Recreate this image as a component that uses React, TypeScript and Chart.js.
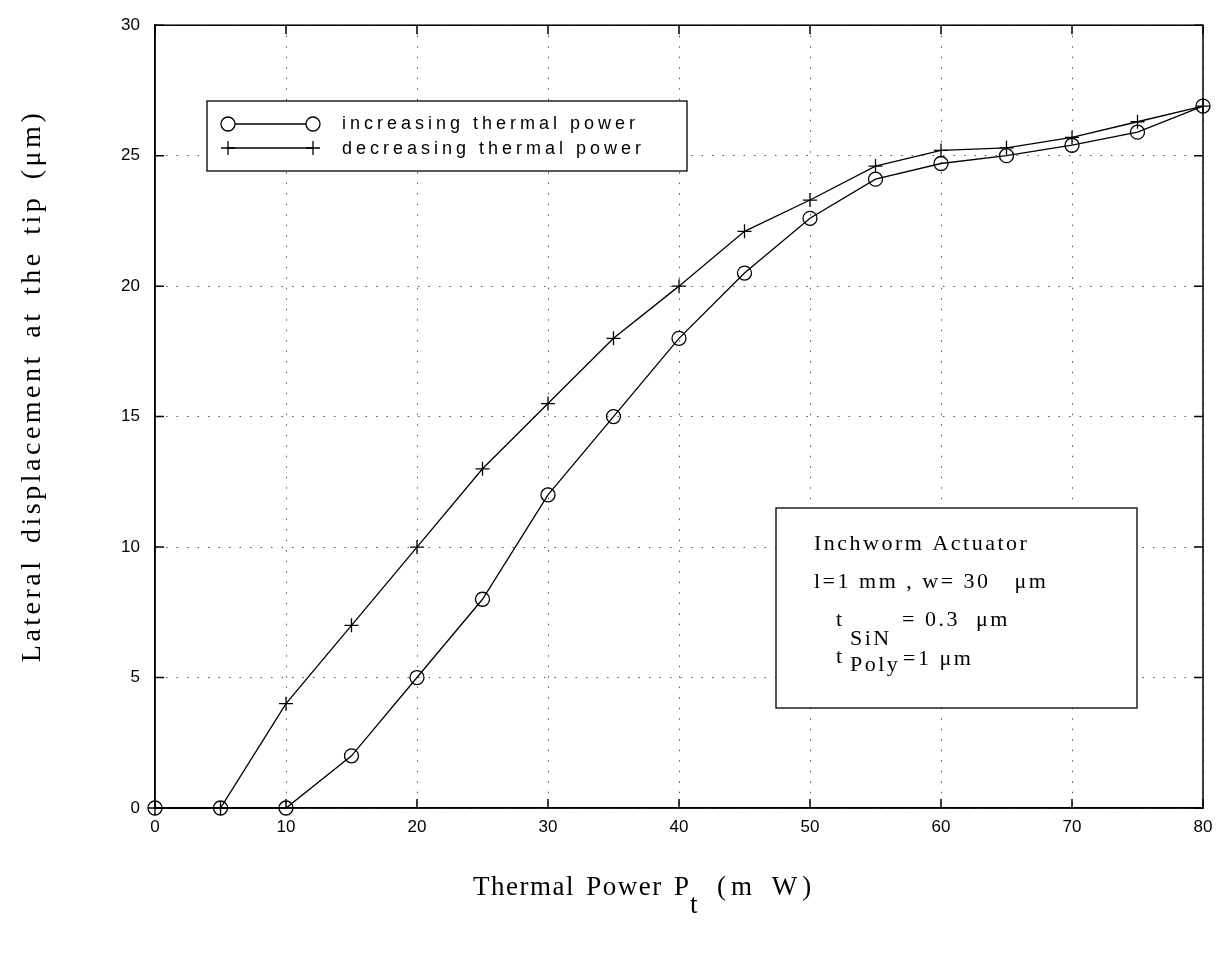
import React, { useEffect, useRef } from 'react';
import { Chart, registerables } from 'chart.js';

Chart.register(...registerables);

// ---- data ----
const powerMW = [0, 5, 10, 15, 20, 25, 30, 35, 40, 45, 50, 55, 60, 65, 70, 75, 80];
const increasingDisp = [0, 0, 0, 2, 5, 8, 12, 15, 18, 20.5, 22.6, 24.1, 24.7, 25.0, 25.4, 25.9, 26.9];
const decreasingDisp = [0, 0, 4, 7, 10, 13, 15.5, 18, 20, 22.1, 23.3, 24.6, 25.2, 25.3, 25.7, 26.3, 26.9];
const xTickValues = [0, 10, 20, 30, 40, 50, 60, 70, 80];
const yTickValues = [0, 5, 10, 15, 20, 25, 30];
const seriesLabels = ['increasing thermal power', 'decreasing thermal power'];
const yTitle = 'Lateral displacement at the tip (μm)';
const xTitleMain = 'Thermal Power P';
const xTitleSub = 't';
const xTitleUnit = '(m W)';
const boxTitle = 'Inchworm Actuator';
const boxLine2 = 'l=1 mm , w= 30   μm';
const boxLine3 = ['t', 'SiN', '= 0.3  μm'];
const boxLine4 = ['t', 'Poly', '=1 μm'];

const SANS = "'Liberation Sans', Arial, Helvetica, sans-serif";
const SERIF = "'Liberation Serif', 'Times New Roman', serif";

function drawCircle(ctx: CanvasRenderingContext2D, x: number, y: number, r: number) {
  ctx.beginPath();
  ctx.arc(x, y, r, 0, Math.PI * 2);
  ctx.stroke();
}
function drawPlus(ctx: CanvasRenderingContext2D, x: number, y: number, r: number) {
  ctx.beginPath();
  ctx.moveTo(x - r, y);
  ctx.lineTo(x + r, y);
  ctx.moveTo(x, y - r);
  ctx.lineTo(x, y + r);
  ctx.stroke();
}

const decorPlugin = {
  id: 'decor',
  afterDraw(chart: any) {
    const { ctx, chartArea: a, scales } = chart;
    const xs = scales.x;
    const ys = scales.y;
    ctx.save();
    // frame
    ctx.strokeStyle = '#000';
    ctx.lineWidth = 1.5;
    ctx.strokeRect(a.left, a.top, a.right - a.left, a.bottom - a.top);
    // inward ticks on all sides
    const tl = 9;
    ctx.beginPath();
    xTickValues.forEach((v) => {
      const px = xs.getPixelForValue(v);
      ctx.moveTo(px, a.bottom);
      ctx.lineTo(px, a.bottom - tl);
      ctx.moveTo(px, a.top);
      ctx.lineTo(px, a.top + tl);
    });
    yTickValues.forEach((v) => {
      const py = ys.getPixelForValue(v);
      ctx.moveTo(a.left, py);
      ctx.lineTo(a.left + tl, py);
      ctx.moveTo(a.right, py);
      ctx.lineTo(a.right - tl, py);
    });
    ctx.stroke();

    // legend box
    const lg = { x: 207, y: 101, w: 480, h: 70 };
    ctx.fillStyle = '#fff';
    ctx.fillRect(lg.x, lg.y, lg.w, lg.h);
    ctx.lineWidth = 1.3;
    ctx.strokeRect(lg.x, lg.y, lg.w, lg.h);
    const r1 = 124, r2 = 148, mx1 = 228, mx2 = 313;
    ctx.beginPath();
    ctx.moveTo(mx1 + 7, r1); ctx.lineTo(mx2 - 7, r1);
    ctx.moveTo(mx1, r2); ctx.lineTo(mx2, r2);
    ctx.stroke();
    drawCircle(ctx, mx1, r1, 7);
    drawCircle(ctx, mx2, r1, 7);
    drawPlus(ctx, mx1, r2, 7);
    drawPlus(ctx, mx2, r2, 7);
    ctx.fillStyle = '#000';
    ctx.font = `18px ${SANS}`;
    (ctx as any).letterSpacing = '4px';
    ctx.textBaseline = 'middle';
    ctx.textAlign = 'left';
    ctx.fillText(seriesLabels[0], 342, r1);
    ctx.fillText(seriesLabels[1], 342, r2 + 1);

    // annotation box
    const bx = { x: 776, y: 508, w: 361, h: 200 };
    ctx.fillStyle = '#fff';
    ctx.fillRect(bx.x, bx.y, bx.w, bx.h);
    ctx.strokeRect(bx.x, bx.y, bx.w, bx.h);
    ctx.fillStyle = '#000';
    ctx.font = `22px ${SERIF}`;
    (ctx as any).letterSpacing = '2.5px';
    ctx.textBaseline = 'alphabetic';
    ctx.fillText(boxTitle, 814, 550);
    ctx.fillText(boxLine2, 814, 588);
    ctx.fillText(boxLine3[0], 836, 626);
    ctx.fillText(boxLine3[1], 850, 645);
    ctx.fillText(boxLine3[2], 902, 626);
    ctx.fillText(boxLine4[0], 836, 663);
    ctx.fillText(boxLine4[1], 850, 671);
    ctx.fillText(boxLine4[2], 903, 665);

    // axis titles
    ctx.font = `28px ${SERIF}`;
    (ctx as any).letterSpacing = '3.5px';
    (ctx as any).wordSpacing = '5px';
    ctx.save();
    ctx.translate(40, 386);
    ctx.rotate(-Math.PI / 2);
    ctx.textAlign = 'center';
    ctx.textBaseline = 'alphabetic';
    ctx.fillText(yTitle, 0, 0);
    ctx.restore();

    ctx.font = `27px ${SERIF}`;
    (ctx as any).letterSpacing = '1.5px';
    (ctx as any).wordSpacing = '3px';
    ctx.textAlign = 'left';
    ctx.textBaseline = 'alphabetic';
    ctx.fillText(xTitleMain, 473, 895);
    ctx.fillText(xTitleSub, 690, 913);
    (ctx as any).letterSpacing = '5px';
    ctx.fillText(xTitleUnit, 717, 895);
    ctx.restore();
  },
};

export default function App() {
  const ref = useRef<HTMLCanvasElement | null>(null);
  useEffect(() => {
    if (!ref.current) return;
    const lineStyle = {
      borderColor: '#000',
      borderWidth: 1.3,
      pointBorderColor: '#000',
      pointBackgroundColor: 'rgba(0,0,0,0)',
      pointBorderWidth: 1.3,
      tension: 0,
      fill: false,
      clip: false as any,
    };
    const chart = new Chart(ref.current, {
      type: 'line',
      data: {
        datasets: [
          {
            label: seriesLabels[0],
            data: powerMW.map((x, i) => ({ x, y: increasingDisp[i] })),
            pointStyle: 'circle',
            pointRadius: 7,
            ...lineStyle,
          },
          {
            label: seriesLabels[1],
            data: powerMW.map((x, i) => ({ x, y: decreasingDisp[i] })),
            pointStyle: 'cross',
            pointRadius: 7,
            ...lineStyle,
          },
        ],
      },
      options: {
        animation: false,
        responsive: false,
        devicePixelRatio: 1,
        layout: { padding: { left: 0, right: 26, top: 22, bottom: 0 } },
        plugins: { legend: { display: false }, tooltip: { enabled: false }, title: { display: false } },
        scales: {
          x: {
            type: 'linear',
            min: 0,
            max: 80,
            afterFit: (s: any) => { s.height = 154; },
            afterBuildTicks: (s: any) => { s.ticks = xTickValues.map((v) => ({ value: v })); },
            grid: { color: '#555', lineWidth: 1, drawTicks: false },
            border: { display: true, color: '#000', width: 1.5, dash: [1.5, 9] },
            ticks: {
              padding: 9,
              color: '#000',
              maxRotation: 0,
              autoSkip: false,
              font: { family: SANS, size: 17 },
            },
          },
          y: {
            type: 'linear',
            min: 0,
            max: 30,
            afterFit: (s: any) => { s.width = 155; },
            afterBuildTicks: (s: any) => { s.ticks = yTickValues.map((v) => ({ value: v })); },
            grid: { color: '#555', lineWidth: 1, drawTicks: false },
            border: { display: true, color: '#000', width: 1.5, dash: [1.5, 9] },
            ticks: {
              padding: 15,
              color: '#000',
              autoSkip: false,
              font: { family: SANS, size: 17 },
            },
          },
        },
      },
      plugins: [decorPlugin],
    });
    return () => chart.destroy();
  }, []);
  return (
    <div style={{ position: 'absolute', left: 0, top: 0, width: 1229, height: 962, background: '#fff' }}>
      <canvas ref={ref} width={1229} height={962} style={{ display: 'block', width: 1229, height: 962 }} />
    </div>
  );
}
